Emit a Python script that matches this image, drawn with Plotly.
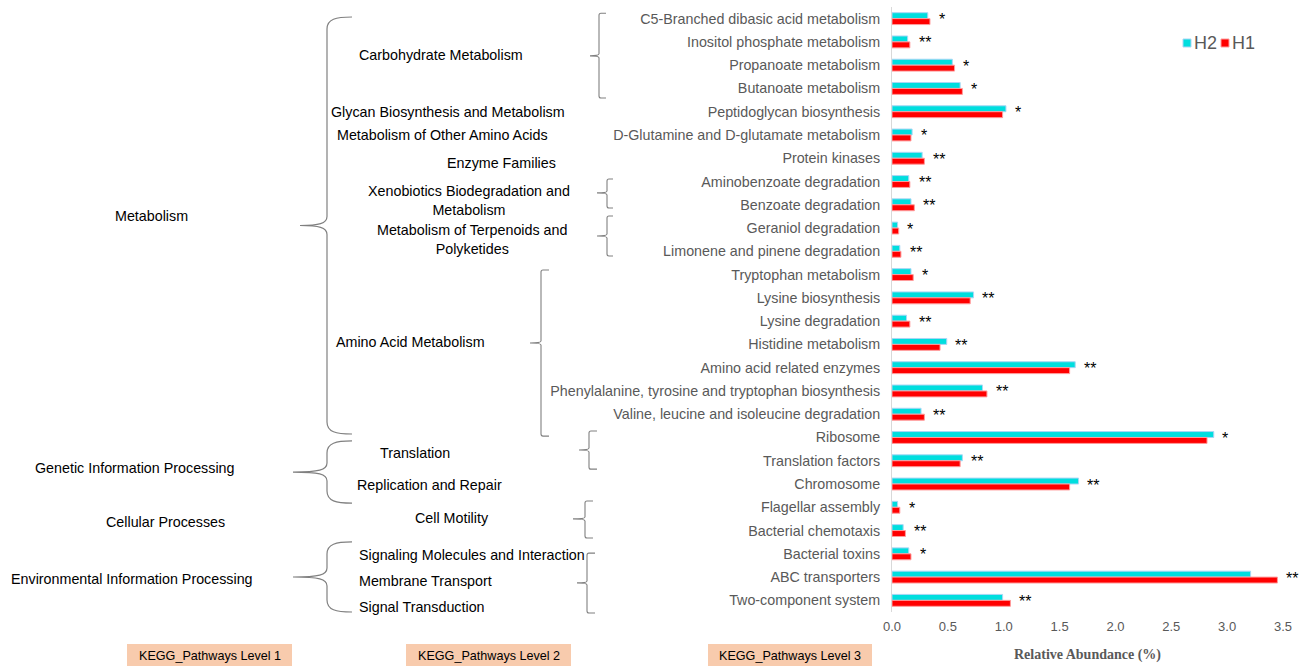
import plotly.graph_objects as go

# KEGG level-3 pathways, top to bottom
categories = [
    "C5-Branched dibasic acid metabolism",
    "Inositol phosphate metabolism",
    "Propanoate metabolism",
    "Butanoate metabolism",
    "Peptidoglycan biosynthesis",
    "D-Glutamine and D-glutamate metabolism",
    "Protein kinases",
    "Aminobenzoate degradation",
    "Benzoate degradation",
    "Geraniol degradation",
    "Limonene and pinene degradation",
    "Tryptophan metabolism",
    "Lysine biosynthesis",
    "Lysine degradation",
    "Histidine metabolism",
    "Amino acid related enzymes",
    "Phenylalanine, tyrosine and tryptophan biosynthesis",
    "Valine, leucine and isoleucine degradation",
    "Ribosome",
    "Translation factors",
    "Chromosome",
    "Flagellar assembly",
    "Bacterial chemotaxis",
    "Bacterial toxins",
    "ABC transporters",
    "Two-component system",
]

# Relative abundance (%)
h2 = [0.32, 0.14, 0.54, 0.61, 1.02, 0.18, 0.27, 0.15, 0.17, 0.05, 0.07, 0.17, 0.73,
      0.13, 0.49, 1.64, 0.81, 0.26, 2.88, 0.63, 1.67, 0.05, 0.10, 0.15, 3.21, 0.99]
h1 = [0.34, 0.16, 0.56, 0.63, 0.99, 0.17, 0.29, 0.16, 0.20, 0.06, 0.08, 0.19, 0.70,
      0.16, 0.43, 1.59, 0.85, 0.29, 2.82, 0.61, 1.59, 0.07, 0.12, 0.17, 3.45, 1.06]

significance = ["*", "**", "*", "*", "*", "*", "**", "**", "**", "*", "**", "*", "**",
                "**", "**", "**", "**", "**", "*", "**", "**", "*", "**", "*", "**", "**"]

# Level-1 groups: (label, first row, last row)
level1 = [
    ("Metabolism", 0, 17),
    ("Genetic Information Processing", 18, 20),
    ("Cellular Processes", 21, 22),
    ("Environmental Information Processing", 23, 25),
]

# Level-2 groups: (label, first row, last row)
level2 = [
    ("Carbohydrate Metabolism", 0, 3),
    ("Glycan Biosynthesis and Metabolism", 4, 4),
    ("Metabolism of Other Amino Acids", 5, 5),
    ("Enzyme Families", 6, 6),
    ("Xenobiotics Biodegradation and<br>Metabolism", 7, 8),
    ("Metabolism of Terpenoids and<br>Polyketides", 9, 10),
    ("Amino Acid Metabolism", 11, 17),
    ("Translation", 18, 19),
    ("Replication and Repair", 20, 20),
    ("Cell Motility", 21, 22),
    ("Signaling Molecules and Interaction", 23, 23),
    ("Membrane Transport", 24, 24),
    ("Signal Transduction", 25, 25),
]

level_headers = ["KEGG_Pathways Level 1", "KEGG_Pathways Level 2", "KEGG_Pathways Level 3"]

series_names = ["H2", "H1"]
series_colors = ["#00DEDE", "#FF0000"]
series_edges = ["#A9D6F5", "#FF9C9C"]

X_MAX = 3.5

# ---------------------------------------------------------------- geometry
FIG_W, FIG_H = 1306, 666
M_L, M_R, M_T, M_B = 892, 23, 7, 54
PW = FIG_W - M_L - M_R
PH = FIG_H - M_T - M_B
N = len(categories)

SANS = "Arial, Liberation Sans, sans-serif"
GREY_TXT = "#595959"
BRACE = "#808080"
LABEL_SIZE = 14.3


def xp(px):
    return (px - M_L) / PW


def yp(py):
    return 1 - (py - M_T) / PH


def row_px(r):
    return M_T + (r + 0.5) * PH / N


def path_str(cmds):
    out = []
    for c in cmds:
        op, pts = c[0], c[1:]
        coords = " ".join(f"{xp(x):.5f},{yp(y):.5f}" for x, y in pts)
        out.append(f"{op} {coords}")
    return " ".join(out)


def curly(xv, xh, xt, r0, r1, rt):
    top, bot, tip = row_px(r0), row_px(r1), row_px(rt)
    return path_str([
        ("M", (xh, top)),
        ("C", (xv + 9, top), (xv, top + 2), (xv, top + 12)),
        ("L", (xv, tip - 9)),
        ("C", (xv, tip - 2), (xv - 8, tip), (xt, tip)),
        ("C", (xv - 8, tip), (xv, tip + 2), (xv, tip + 9)),
        ("L", (xv, bot - 12)),
        ("C", (xv, bot - 2), (xv + 9, bot), (xh, bot)),
    ])


def bracket(xv, xh, xt, r0, r1, rt):
    top, bot, tip = row_px(r0), row_px(r1), row_px(rt)
    return path_str([
        ("M", (xh, top)),
        ("L", (xv + 2, top)),
        ("Q", (xv, top), (xv, top + 2)),
        ("L", (xv, tip - 2)),
        ("Q", (xv, tip), (xt, tip)),
        ("Q", (xv, tip), (xv, tip + 2)),
        ("L", (xv, bot - 2)),
        ("Q", (xv, bot), (xv + 2, bot)),
        ("L", (xh, bot)),
    ])


fig = go.Figure()
for name, vals, col, edge in zip(series_names, [h2, h1], series_colors, series_edges):
    fig.add_trace(go.Bar(
        y=categories, x=vals, name=name, orientation="h",
        marker=dict(color=col, line=dict(color=edge, width=1)),
        showlegend=False,
    ))

annotations = []
shapes = []

# significance marks after each pair of bars (paper x so marks past the axis end still show)
for r, (a, b, s) in enumerate(zip(h2, h1, significance)):
    annotations.append(dict(
        x=(max(a, b) + 0.06) / X_MAX, y=yp(row_px(r)), xref="paper", yref="paper",
        text=s, showarrow=False, xanchor="left", yanchor="middle", yshift=-1,
        font=dict(family=SANS, size=16, color="#000000"),
    ))

# level-1 labels and braces
l1_label_x = [151, 135, 165, 132]
l1_label_r = [8.48, 19.3, 21.64, 24.1]
for (label, r0, r1), lx, lr in zip(level1, l1_label_x, l1_label_r):
    annotations.append(dict(
        x=xp(lx), y=yp(row_px(lr)), xref="paper", yref="paper", text=label,
        showarrow=False, xanchor="center", yanchor="middle",
        font=dict(family=SANS, size=LABEL_SIZE, color="#000000"),
    ))

l1_braces = [  # (vertical x, hook x, tip x, top row, bottom row)
    (327, 352, 300, -0.07, 17.85),
    (327, 352, 293, 18.15, 20.82),
    (327, 352, 293, 22.49, 25.5),
]
for xv, xh, xt, r0, r1 in l1_braces:
    shapes.append(dict(type="path", xref="paper", yref="paper",
                       path=curly(xv, xh, xt, r0, r1, (r0 + r1) / 2),
                       line=dict(color=BRACE, width=1.2)))

# level-2 labels
l2_label_pos = [  # (x px, anchor, row)
    (441, "center", 1.56), (447.5, "center", 4.01), (443, "center", 5.0),
    (501, "center", 6.2), (469.5, "center", 7.8), (472, "center", 9.49),
    (410, "center", 13.9), (415, "center", 18.67), (429.5, "center", 20.04),
    (452, "center", 21.46), (357, "left", 23.05), (357, "left", 24.17),
    (357, "left", 25.28),
]
for (label, r0, r1), (lx, anc, lr) in zip(level2, l2_label_pos):
    annotations.append(dict(
        x=xp(lx), y=yp(row_px(lr)), xref="paper", yref="paper", text=label,
        showarrow=False, xanchor=anc, yanchor="middle",
        font=dict(family=SANS, size=LABEL_SIZE, color="#000000"),
    ))

l2_braces = [  # (vertical x, hook x, tip x, top row, bottom row, tip row)
    (599, 606, 590, -0.23, 3.41, 1.6),
    (607, 613, 597, 6.89, 8.14, 7.49),
    (607, 613, 597, 8.48, 10.2, 9.34),
    (541, 549, 530, 10.8, 17.94, 13.94),
    (589, 597, 579, 17.72, 19.36, 18.54),
    (585, 593, 573, 20.73, 22.32, 21.5),
    (587, 595, 577, 22.97, 25.54, 24.25),
]
for xv, xh, xt, r0, r1, rt in l2_braces:
    shapes.append(dict(type="path", xref="paper", yref="paper",
                       path=bracket(xv, xh, xt, r0, r1, rt),
                       line=dict(color=BRACE, width=1.1)))

# level header boxes along the bottom
box_spans = [(127, 292), (406, 571), (708, 872)]
for text, (x0, x1) in zip(level_headers, box_spans):
    shapes.append(dict(type="rect", xref="paper", yref="paper",
                       x0=xp(x0), x1=xp(x1), y0=yp(667), y1=yp(644),
                       fillcolor="#F8CBAD", line=dict(width=0), layer="below"))
    annotations.append(dict(
        x=xp((x0 + x1) / 2), y=yp(655.5), xref="paper", yref="paper", text=text,
        showarrow=False, xanchor="center", yanchor="middle",
        font=dict(family=SANS, size=12.6, color="#000000"),
    ))

# legend
legend_x = [1183, 1221]
for name, col, edge, lx in zip(series_names, series_colors, series_edges, legend_x):
    shapes.append(dict(type="rect", xref="paper", yref="paper",
                       x0=xp(lx), x1=xp(lx + 8), y0=yp(47), y1=yp(39),
                       fillcolor=col, line=dict(color=edge, width=1)))
    annotations.append(dict(
        x=xp(lx + 9), y=yp(43), xref="paper", yref="paper", text=name,
        showarrow=False, xanchor="left", yanchor="middle",
        font=dict(family=SANS, size=18, color=GREY_TXT),
    ))

fig.update_layout(
    width=FIG_W, height=FIG_H, autosize=False,
    margin=dict(l=M_L, r=M_R, t=M_T, b=M_B, pad=0),
    paper_bgcolor="white", plot_bgcolor="white",
    barmode="group", bargap=0.49, bargroupgap=0,
    annotations=annotations, shapes=shapes,
    showlegend=False,
)
fig.update_xaxes(
    range=[0, X_MAX], dtick=0.5, tickformat=".1f", showgrid=False, zeroline=False,
    showline=False, ticks="", ticklabelstandoff=5,
    tickfont=dict(family=SANS, size=13, color=GREY_TXT),
    title=dict(text="<b>Relative Abundance (%)</b>", standoff=16,
               font=dict(family="Times New Roman, Liberation Serif, serif", size=14, color=GREY_TXT)),
)
fig.update_yaxes(
    autorange="reversed", showgrid=False, zeroline=False,
    showline=True, linecolor="#D9D9D9", linewidth=1, ticks="",
    ticklabelstandoff=8,
    tickfont=dict(family=SANS, size=LABEL_SIZE, color=GREY_TXT),
)

fig.write_html("out.html")
